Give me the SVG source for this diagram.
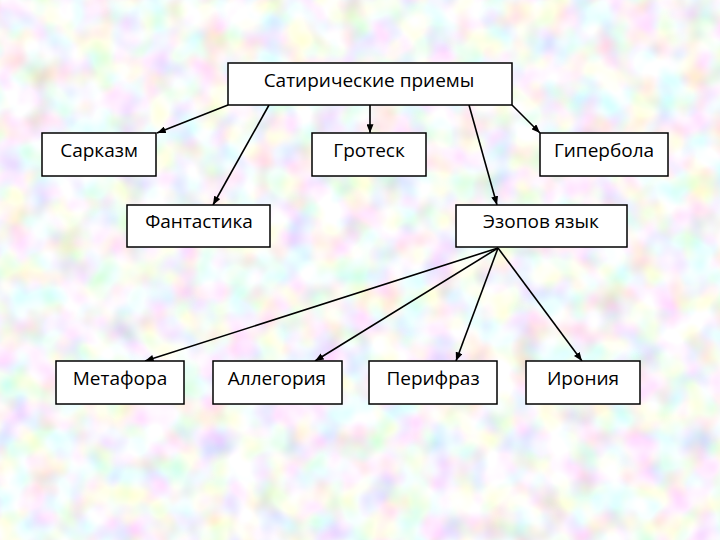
<svg xmlns="http://www.w3.org/2000/svg" width="720" height="540" viewBox="0 0 720 540">
  <defs>
    <filter id="pastel" x="0" y="0" width="100%" height="100%" filterUnits="userSpaceOnUse">
      <feTurbulence type="fractalNoise" baseFrequency="0.035" numOctaves="2" seed="7" result="n"/>
      <feColorMatrix in="n" type="matrix" values="0.75 0 0 0 0.55  0 0.7 0 0 0.58  0 0 0.75 0 0.56  0 0 0 0 1"/>
    </filter>
    <marker id="arr" viewBox="0 0 10 8" refX="10" refY="4" markerWidth="9" markerHeight="7" markerUnits="userSpaceOnUse" orient="auto">
      <path d="M0,0 L10,4 L0,8 Z" fill="#000"/>
    </marker>
    <style>
      .box { fill: #ffffff; stroke: #000000; stroke-width: 1.5; }
      .lbl { font-family: "Open Sans", "DejaVu Sans", sans-serif; font-size: 19px; fill: #000000; text-anchor: middle; }
      .con { stroke: #000000; stroke-width: 1.6; fill: none; marker-end: url(#arr); }
    </style>
  </defs>
  <rect x="0" y="0" width="720" height="540" filter="url(#pastel)"/>

  <g id="connectors">
    <line class="con" x1="228" y1="105" x2="157" y2="133"/>
    <line class="con" x1="269" y1="105" x2="213" y2="205"/>
    <line class="con" x1="370" y1="105" x2="370" y2="133"/>
    <line class="con" x1="469" y1="105" x2="497" y2="205"/>
    <line class="con" x1="512" y1="105" x2="540" y2="133"/>
    <line class="con" x1="498" y1="248" x2="145" y2="361"/>
    <line class="con" x1="498" y1="248" x2="315" y2="361"/>
    <line class="con" x1="498" y1="248" x2="456" y2="361"/>
    <line class="con" x1="498" y1="248" x2="582" y2="361"/>
  </g>

  <g id="satiricheskie">
    <rect class="box" x="228" y="63" width="284" height="42"/>
    <text class="lbl" x="369" y="87">Сатирические приемы</text>
  </g>
  <g id="sarkazm">
    <rect class="box" x="42" y="133" width="114" height="43"/>
    <text class="lbl" x="99" y="157">Сарказм</text>
  </g>
  <g id="grotesk">
    <rect class="box" x="312" y="133" width="114" height="43"/>
    <text class="lbl" x="369" y="157">Гротеск</text>
  </g>
  <g id="giperbola">
    <rect class="box" x="540" y="133" width="128" height="43"/>
    <text class="lbl" x="604" y="157">Гипербола</text>
  </g>
  <g id="fantastika">
    <rect class="box" x="127" y="205" width="143" height="42"/>
    <text class="lbl" x="199" y="228">Фантастика</text>
  </g>
  <g id="ezopov">
    <rect class="box" x="456" y="205" width="171" height="42"/>
    <text class="lbl" x="541" y="228">Эзопов язык</text>
  </g>
  <g id="metafora">
    <rect class="box" x="56" y="361" width="128" height="43"/>
    <text class="lbl" x="120" y="385">Метафора</text>
  </g>
  <g id="allegoriya">
    <rect class="box" x="213" y="361" width="129" height="43"/>
    <text class="lbl" x="277" y="385">Аллегория</text>
  </g>
  <g id="perifraz">
    <rect class="box" x="369" y="361" width="128" height="43"/>
    <text class="lbl" x="433" y="385">Перифраз</text>
  </g>
  <g id="ironiya">
    <rect class="box" x="526" y="361" width="114" height="43"/>
    <text class="lbl" x="583" y="385">Ирония</text>
  </g>
</svg>
